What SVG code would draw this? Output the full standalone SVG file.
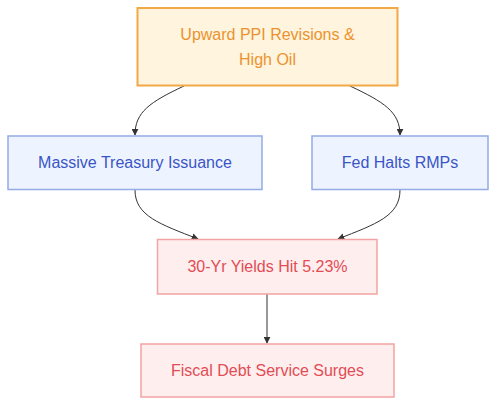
<svg xmlns="http://www.w3.org/2000/svg" width="496" height="406" viewBox="0 0 496 406">
<defs>
<marker id="arr" viewBox="0 0 10 10" refX="9" refY="5" markerWidth="7" markerHeight="7" markerUnits="userSpaceOnUse" orient="auto">
<path d="M0,0 L10,5 L0,10 z" fill="#333"/>
</marker>
<style>
text{font-family:"Liberation Sans",Arial,sans-serif;font-size:16px;text-anchor:middle;dominant-baseline:central}
.o rect{fill:#fff4de;stroke:#f2a846;stroke-width:2}
.o text{fill:#ea932e}
.b rect{fill:#eef4ff;stroke:#94abe6;stroke-width:1.5}
.b text{fill:#3a54c6}
.r rect{fill:#ffeeee;stroke:#f2a3a3;stroke-width:1.5}
.r text{fill:#e24c55}
.e{fill:none;stroke:#333;stroke-width:1;marker-end:url(#arr)}
</style>
</defs>
<rect width="496" height="406" fill="#fff"/>
<g id="connectors">
<path class="e" d="M184,86 C150,102 135,112 135,135"/>
<path class="e" d="M350,86 C384,102 400,112 400,135"/>
<path class="e" d="M135,190 C135,216 160,224 198,239"/>
<path class="e" d="M400,190 C400,216 376,224 338,239"/>
<path class="e" d="M267,294 L267,343"/>
</g>
<g id="n1" class="o">
<rect x="137.5" y="8" width="260" height="77.5"/>
<text x="267.5" y="34">Upward PPI Revisions &amp;</text>
<text x="267.5" y="59">High Oil</text>
</g>
<g id="n2" class="b">
<rect x="8" y="136" width="254" height="53.5"/>
<text x="135" y="162">Massive Treasury Issuance</text>
</g>
<g id="n3" class="b">
<rect x="312" y="136" width="176" height="53.5"/>
<text x="400" y="162">Fed Halts RMPs</text>
</g>
<g id="n4" class="r">
<rect x="157.5" y="239.5" width="219.5" height="54.5"/>
<text x="267.5" y="266.5">30-Yr Yields Hit 5.23%</text>
</g>
<g id="n5" class="r">
<rect x="141" y="344" width="253" height="53"/>
<text x="267.5" y="370">Fiscal Debt Service Surges</text>
</g>
</svg>
